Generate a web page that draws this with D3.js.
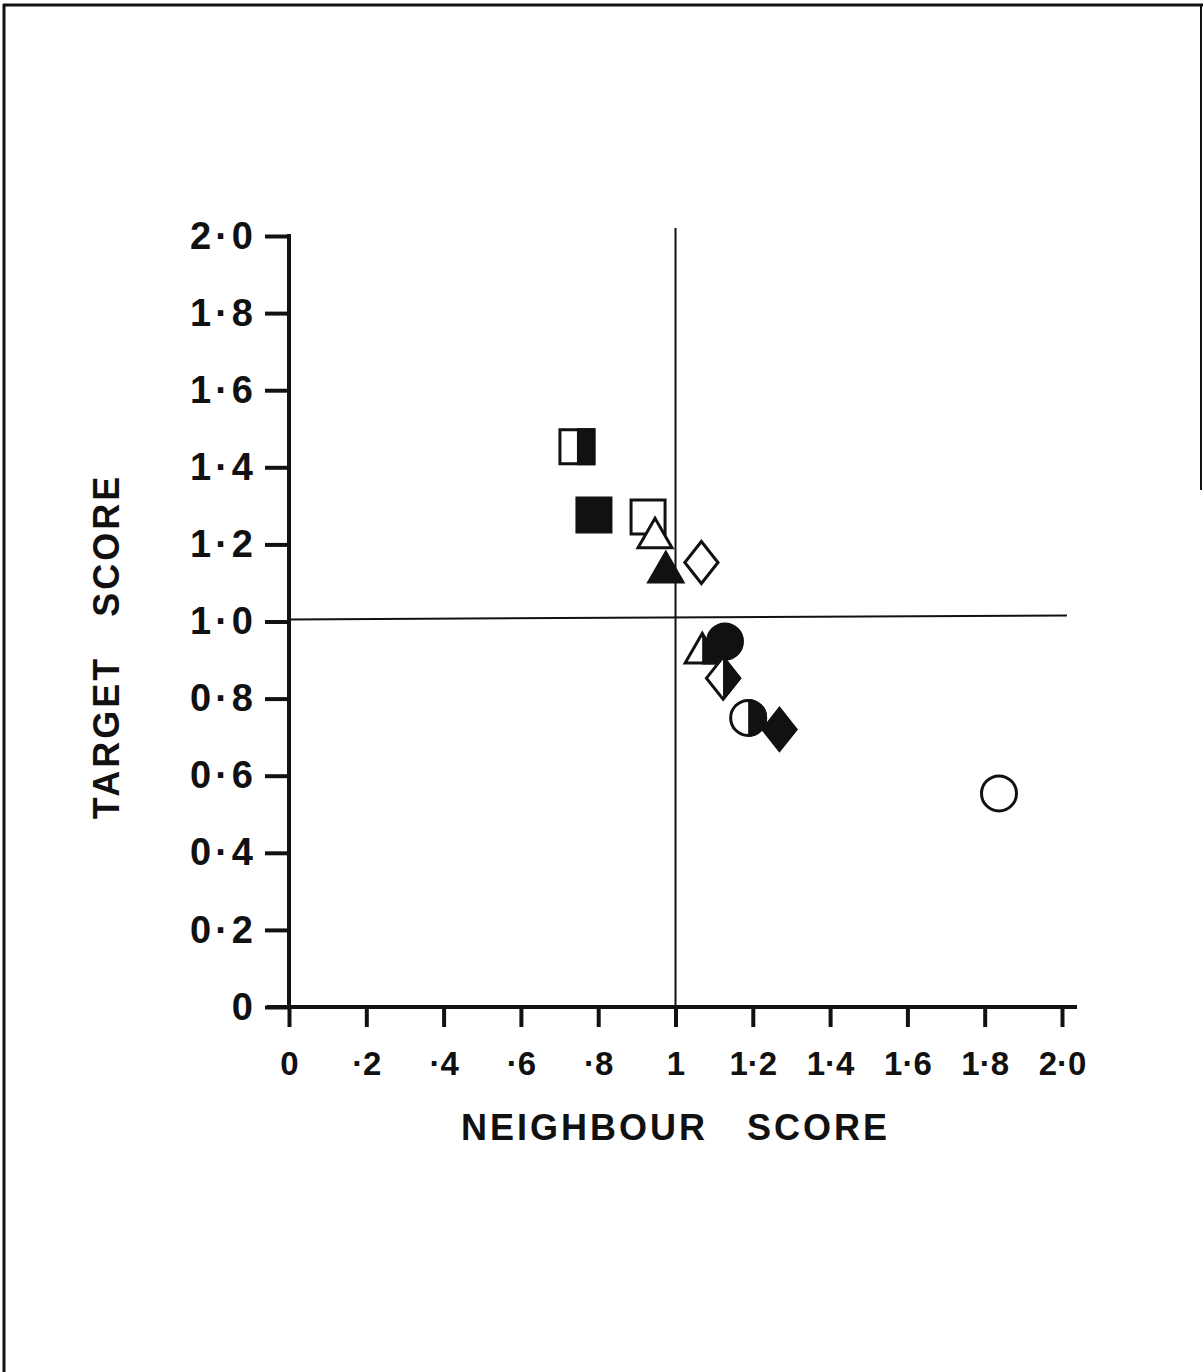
<!DOCTYPE html>
<html>
<head>
<meta charset="utf-8">
<script src="https://cdn.jsdelivr.net/npm/d3@7"></script>
<style>
    body { margin: 0; background: #fff; }
    svg { display: block; }
    text { font-family: "Liberation Sans", Arial, Helvetica, sans-serif; font-weight: bold; fill: #111; }
</style>
</head>
<body>
<svg id="chart"></svg>
<script>
// data
const neighbourScore = [0.745, 0.789, 0.929, 0.947, 0.975, 1.067, 1.069, 1.128, 1.123, 1.188, 1.269, 1.837]
const targetScore = [1.453, 1.276, 1.271, 1.217, 1.128, 1.153, 0.918, 0.948, 0.853, 0.750, 0.720, 0.554]
const markerShape = ["square", "square", "square", "triangle", "triangle", "diamond",
    "triangle", "circle", "diamond", "circle", "diamond", "circle"]
const markerFill = ["half", "filled", "open", "open", "filled", "open",
    "half", "filled", "half", "half", "filled", "open"]

const xTicks = [0, 0.2, 0.4, 0.6, 0.8, 1.0, 1.2, 1.4, 1.6, 1.8, 2.0]
const xTickLabels = ["0", "·2", "·4", "·6", "·8", "1", "1·2", "1·4", "1·6", "1·8", "2·0"]
const yTicks = [0, 0.2, 0.4, 0.6, 0.8, 1.0, 1.2, 1.4, 1.6, 1.8, 2.0]
const yTickLabels = ["0", "0·2", "0·4", "0·6", "0·8", "1·0", "1·2", "1·4", "1·6", "1·8", "2·0"]
const referenceX = 1.0
const referenceY = 1.0

let dimensions = {
    width: 1203,
    height: 1372,
    margin: { top: 236, right: 141, bottom: 365, left: 289 },
}
dimensions.boundedWidth = dimensions.width - dimensions.margin.left - dimensions.margin.right
dimensions.boundedHeight = dimensions.height - dimensions.margin.top - dimensions.margin.bottom

const wrapper = d3.select("#chart")
    .attr("width", dimensions.width)
    .attr("height", dimensions.height)

// scanned page frame (top, left, part of right)
const frame = wrapper.append("g").attr("stroke", "#111").attr("stroke-width", 3)
frame.append("line").attr("x1", 3).attr("x2", 1203).attr("y1", 5).attr("y2", 5)
frame.append("line").attr("x1", 4).attr("x2", 4).attr("y1", 4).attr("y2", 1372)
frame.append("line").attr("x1", 1201).attr("x2", 1201).attr("y1", 4).attr("y2", 490).attr("stroke-width", 2)

const defs = wrapper.append("defs")
defs.append("clipPath")
    .attr("id", "right-half")
    .append("rect")
    .attr("x", 0).attr("y", -40)
    .attr("width", 40).attr("height", 80)

const bounds = wrapper.append("g")
    .attr("transform", `translate(${dimensions.margin.left},${dimensions.margin.top})`)

// scales
const xScale = d3.scaleLinear()
    .domain([0, 2])
    .range([0, dimensions.boundedWidth])
const yScale = d3.scaleLinear()
    .domain([0, 2])
    .range([dimensions.boundedHeight, 0])

// reference lines at 1.0
bounds.append("line")
    .attr("x1", xScale(referenceX)).attr("x2", xScale(referenceX))
    .attr("y1", yScale(2) - 8).attr("y2", yScale(0))
    .attr("stroke", "#111").attr("stroke-width", 2)
bounds.append("line")
    .attr("x1", xScale(0)).attr("x2", xScale(2) + 5)
    .attr("y1", yScale(referenceY) - 2).attr("y2", yScale(referenceY) - 6)
    .attr("stroke", "#111").attr("stroke-width", 2)

// axes
const xAxisGenerator = d3.axisBottom(xScale)
    .tickValues(xTicks)
    .tickFormat((d, i) => xTickLabels[i])
    .tickSize(20)
    .tickSizeOuter(0)
    .tickPadding(25)
const xAxis = bounds.append("g")
    .attr("transform", `translate(0,${dimensions.boundedHeight})`)
    .call(xAxisGenerator)
xAxis.select(".domain").remove()
xAxis.selectAll(".tick line").attr("stroke", "#111").attr("stroke-width", 4)
xAxis.selectAll(".tick text")
    .attr("fill", "#111")
    .style("font-size", "33px")

const yAxisGenerator = d3.axisLeft(yScale)
    .tickValues(yTicks)
    .tickFormat((d, i) => yTickLabels[i])
    .tickSize(24)
    .tickSizeOuter(0)
    .tickPadding(8)
const yAxis = bounds.append("g")
    .call(yAxisGenerator)
yAxis.select(".domain").remove()
yAxis.selectAll(".tick line").attr("stroke", "#111").attr("stroke-width", 4)
yAxis.selectAll(".tick text")
    .attr("fill", "#111")
    .style("font-size", "38px")
    .style("letter-spacing", "4px")

// axis lines drawn by hand so they overshoot like the original
bounds.append("line")
    .attr("x1", xScale(0) - 22).attr("x2", xScale(2) + 15)
    .attr("y1", yScale(0)).attr("y2", yScale(0))
    .attr("stroke", "#111").attr("stroke-width", 4)
bounds.append("line")
    .attr("x1", xScale(0)).attr("x2", xScale(0))
    .attr("y1", yScale(2) - 2).attr("y2", yScale(0))
    .attr("stroke", "#111").attr("stroke-width", 4)

// axis titles
wrapper.append("text")
    .attr("x", dimensions.margin.left + xScale(referenceX))
    .attr("y", 1140)
    .attr("text-anchor", "middle")
    .style("font-size", "36px")
    .style("letter-spacing", "3px")
    .style("word-spacing", "26px")
    .text("NEIGHBOUR SCORE")

wrapper.append("text")
    .attr("transform", `translate(119,${dimensions.margin.top + yScale(1) + 25}) rotate(-90)`)
    .attr("text-anchor", "middle")
    .style("font-size", "36px")
    .style("letter-spacing", "3px")
    .style("word-spacing", "26px")
    .text("TARGET SCORE")

// marker shapes
const tallDiamond = {
    draw(context, size) {
        const h = Math.sqrt(size) / 2
        const w = h * 0.79
        context.moveTo(0, -h)
        context.lineTo(w, 0)
        context.lineTo(0, h)
        context.lineTo(-w, 0)
        context.closePath()
    }
}
const shapes = {
    square: d3.symbol(d3.symbolSquare, 34 * 34),
    circle: d3.symbol(d3.symbolCircle, Math.PI * 17.5 * 17.5),
    triangle: d3.symbol(d3.symbolTriangle, 500),
    diamond: d3.symbol(tallDiamond, 42 * 42),
}

const points = neighbourScore.map((d, i) => ({
    x: d, y: targetScore[i], shape: markerShape[i], fill: markerFill[i]
}))

const markers = bounds.selectAll(".marker")
    .data(points)
    .join("g")
    .attr("class", "marker")
    .attr("transform", d => `translate(${xScale(d.x)},${yScale(d.y)})`)

markers.append("path")
    .attr("d", d => shapes[d.shape]())
    .attr("fill", d => d.fill == "filled" ? "#111" : "#fff")
    .attr("stroke", "#111")
    .attr("stroke-width", 3)
    .attr("stroke-linejoin", "miter")

markers.filter(d => d.fill == "half")
    .append("path")
    .attr("d", d => shapes[d.shape]())
    .attr("fill", "#111")
    .attr("stroke", "#111")
    .attr("stroke-width", 3)
    .attr("clip-path", "url(#right-half)")
</script>
</body>
</html>
